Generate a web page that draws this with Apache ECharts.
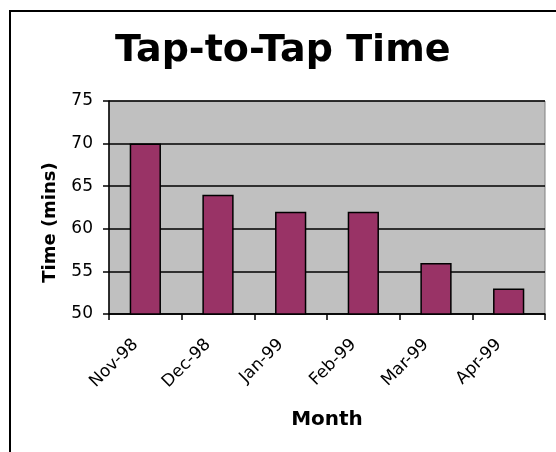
<!DOCTYPE html>
<html>
<head>
<meta charset="utf-8">
<title>Tap-to-Tap Time</title>
<script src="https://cdn.jsdelivr.net/npm/echarts@6/dist/echarts.min.js"></script>
<style>
  html, body { margin: 0; padding: 0; background: #fff; }
  #chart { width: 556px; height: 452px; }
</style>
</head>
<body>
<div id="chart"></div>
<script>
  // 月份 / 每月时间
  const months = ['Nov-98', 'Dec-98', 'Jan-99', 'Feb-99', 'Mar-99', 'Apr-99']
  const tapTimes = [70, 64, 62, 62, 56, 53]
  const yTicks = { min: 50, max: 75, step: 5 }

  const font = 'DejaVu Sans'

  const myChart = echarts.init(document.getElementById('chart'))
  myChart.setOption({
    animation: false,
    // 外框（只露出左边和上边）
    graphic: [
      {
        type: 'polyline',
        shape: { points: [[10, 460], [10, 11], [560, 11]] },
        style: { fill: null, stroke: '#000', lineWidth: 2 },
        silent: true
      }
    ],
    title: {
      text: 'Tap-to-Tap Time',
      left: 115,
      top: 32,
      padding: 0,
      textStyle: { fontFamily: font, fontWeight: 'bold', fontSize: 38, color: '#000' }
    },
    grid: {
      left: 109,
      right: 11,
      top: 101,
      bottom: 138,
      show: true,
      backgroundColor: '#c0c0c0',
      borderColor: '#808080',
      borderWidth: 1
    },
    xAxis: {
      type: 'category',
      data: months,
      name: 'Month',
      nameLocation: 'middle',
      nameGap: 96,
      nameTextStyle: { fontFamily: font, fontWeight: 'bold', fontSize: 20, color: '#000' },
      axisLine: { lineStyle: { color: '#000', width: 1.5 } },
      axisTick: { show: true, length: 6, alignWithLabel: false, lineStyle: { color: '#000', width: 1.5 } },
      axisLabel: {
        rotate: 45,
        margin: 18,
        padding: [0, 14, 0, 0],
        fontFamily: font,
        fontSize: 17,
        color: '#000'
      }
    },
    yAxis: {
      type: 'value',
      min: yTicks.min,
      max: yTicks.max,
      interval: yTicks.step,
      name: 'Time (mins)',
      nameLocation: 'middle',
      nameGap: 50,
      nameTextStyle: { fontFamily: font, fontWeight: 'bold', fontSize: 18, color: '#000', padding: [0, 30, 0, 0] },
      axisLine: { show: true, lineStyle: { color: '#000', width: 1.5 } },
      axisTick: { show: true, length: 6, lineStyle: { color: '#000', width: 1.5 } },
      axisLabel: { margin: 16, fontFamily: font, fontSize: 17, color: '#000' },
      splitLine: { show: true, lineStyle: { color: '#000', width: 1.5 } }
    },
    series: [
      {
        name: 'Time',
        type: 'bar',
        data: tapTimes,
        barWidth: '43%',
        itemStyle: { color: '#993366', borderColor: '#000', borderWidth: 1.5 }
      }
    ]
  })
</script>
</body>
</html>
